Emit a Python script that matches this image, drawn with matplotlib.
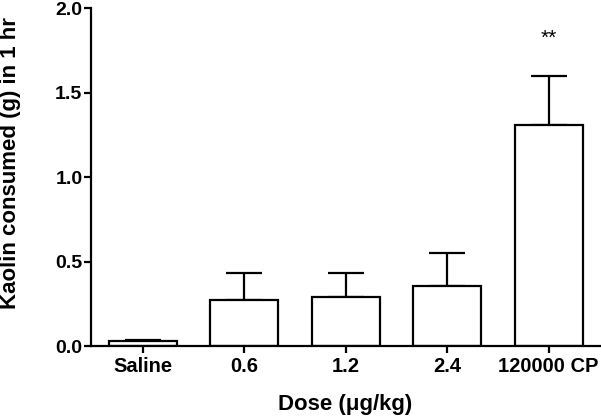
import numpy as np
import matplotlib
matplotlib.use("Agg")
from matplotlib import pyplot as plt

plt.rcParams['font.family'] = ['Liberation Sans', 'DejaVu Sans']
plt.rcParams['font.weight'] = 'bold'

doses = ['Saline', '0.6', '1.2', '2.4', '120000 CP']
kaolin = [0.03, 0.275, 0.29, 0.355, 1.31]
sem = [0.005, 0.155, 0.14, 0.195, 0.29]
stars = ['', '', '', '', '**']

fig = plt.figure(figsize=(6.01, 4.16), dpi=100)
ax = fig.add_axes([0.151, 0.168, 0.847, 0.8125])

x = np.arange(len(doses))
ax.bar(x, kaolin, width=0.67, color='white', edgecolor='black', linewidth=1.6, zorder=2)
ax.errorbar(x, kaolin, yerr=[np.zeros(len(sem)), sem], fmt='none', ecolor='black',
            elinewidth=1.6, capsize=13, capthick=1.6, zorder=1)

for xi, m, s, t in zip(x, kaolin, sem, stars):
    if t:
        ax.text(xi, m + s + 0.22, t, ha='center', va='center', fontsize=15, fontweight='normal')

ax.set_xlim(-0.515, 4.505)
ax.set_ylim(0, 2.0)
ax.set_yticks([0.0, 0.5, 1.0, 1.5, 2.0])
ax.set_yticklabels(['0.0', '0.5', '1.0', '1.5', '2.0'])
ax.set_xticks(x)
ax.set_xticklabels(doses)

for side in ['top', 'right']:
    ax.spines[side].set_visible(False)
for side in ['left', 'bottom']:
    ax.spines[side].set_linewidth(1.6)

ax.tick_params(axis='x', direction='out', length=5, width=1.6, labelsize=14.5, pad=3)
ax.tick_params(axis='y', direction='out', length=5, width=1.6, labelsize=14, pad=1)

ax.set_xlabel('Dose (\u03bcg/kg)', fontsize=16, fontweight='bold')
ax.set_ylabel('Kaolin consumed (g) in 1 hr', fontsize=16, fontweight='bold')
ax.xaxis.set_label_coords(0.5, -0.143)
ax.yaxis.set_label_coords(-0.137, 0.541)

fig.savefig('out.png', dpi=100)
